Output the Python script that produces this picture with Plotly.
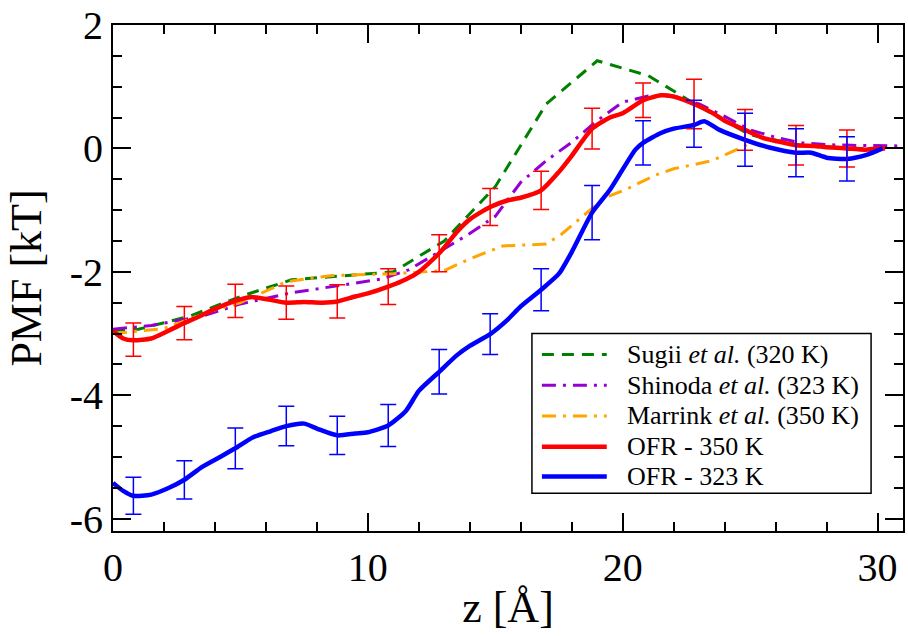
import plotly.graph_objects as go

# ---------------- data ----------------
sugii_x = [0, 1, 3, 5, 7, 9, 11, 13, 15, 17, 19, 21, 23, 25, 27, 29, 30.5]
sugii_y = [-2.95, -2.93, -2.72, -2.4, -2.13, -2.06, -2.0, -1.5, -0.62, 0.72, 1.42, 1.18, 0.68, 0.22, 0.05, 0.0, 0.0]

shinoda_x = [0, 1.5, 3.5, 5, 7, 9, 10.5, 11.6, 13, 14, 15, 16, 17, 18, 19, 20, 21, 22, 23, 24, 25, 26, 27, 28, 29, 31]
shinoda_y = [-2.93, -2.87, -2.72, -2.52, -2.34, -2.22, -2.12, -1.97, -1.63, -1.38, -1.1, -0.55, -0.2, 0.1, 0.45, 0.75,
             0.85, 0.85, 0.72, 0.52, 0.3, 0.18, 0.09, 0.06, 0.05, 0.04]

marrink_x = [0, 2, 3.8, 5, 6.8, 8.6, 11, 13, 14, 15.3, 17, 17.6, 19.3, 20.1, 21.3, 22, 23.5, 25]
marrink_y = [-3.0, -2.92, -2.64, -2.5, -2.16, -2.06, -2.03, -1.98, -1.79, -1.58, -1.55, -1.39, -0.8, -0.67, -0.43, -0.33,
             -0.2, 0.08]

ofr350_x = [0, 0.4, 0.8, 1.5, 2.2, 2.8, 3.4, 4.0, 4.8, 5.4, 6.0, 6.8, 7.5, 8.2, 8.8, 9.5, 10.0, 10.8, 11.5, 12.0, 12.8,
            13.5, 14.0, 14.8, 15.5, 16.0, 16.8, 17.5, 18.0, 18.8, 19.5, 20.0, 20.8, 21.5, 22.0, 22.8, 23.5, 24.0, 24.8,
            25.5, 26.0, 26.8, 27.5, 28.0, 28.8, 29.5, 30.0, 30.3]
ofr350_y = [-2.96, -3.08, -3.11, -3.08, -2.95, -2.83, -2.72, -2.6, -2.47, -2.41, -2.44, -2.5, -2.49, -2.5, -2.48, -2.4,
            -2.35, -2.24, -2.12, -2.0, -1.7, -1.35, -1.15, -0.95, -0.84, -0.8, -0.68, -0.38, -0.12, 0.32, 0.5, 0.57,
            0.78, 0.86, 0.84, 0.72, 0.58, 0.45, 0.3, 0.17, 0.12, 0.05, 0.04, 0.02, 0.0, -0.02, 0.0, 0.0]

ofr323_x = [0, 0.4, 0.8, 1.5, 2.2, 2.8, 3.5, 4.2, 4.8, 5.5, 6.2, 6.8, 7.5, 8.0, 8.8, 9.5, 10.0, 10.8, 11.5, 12.0, 12.8,
            13.5, 14.0, 14.8, 15.5, 16.0, 16.8, 17.5, 18.0, 18.8, 19.5, 20.0, 20.5, 20.8, 21.5, 22.0, 22.8, 23.2, 23.8,
            24.8, 25.8, 26.8, 27.4, 28.0, 28.8, 29.6, 30.2]
ofr323_y = [-5.42, -5.55, -5.63, -5.61, -5.5, -5.37, -5.16, -5.0, -4.86, -4.68, -4.58, -4.5, -4.46, -4.54, -4.65, -4.62,
            -4.6, -4.49, -4.25, -3.93, -3.62, -3.35, -3.2, -3.01, -2.77, -2.56, -2.29, -2.03, -1.68, -1.04, -0.67, -0.34,
            -0.02, 0.09, 0.25, 0.32, 0.38, 0.44, 0.3, 0.14, 0.01, -0.07, -0.07, -0.15, -0.17, -0.1, 0.0]

bar_x = [0.8, 2.8, 4.8, 6.8, 8.8, 10.8, 12.8, 14.8, 16.8, 18.8, 20.8, 22.8, 24.8, 26.8, 28.8]
ofr350_bar_y = [-3.1, -2.83, -2.47, -2.5, -2.48, -2.24, -1.7, -0.95, -0.68, 0.32, 0.78, 0.72, 0.3, 0.05, 0.0]
ofr350_err = [0.27, 0.27, 0.27, 0.27, 0.27, 0.29, 0.30, 0.30, 0.31, 0.33, 0.28, 0.40, 0.33, 0.32, 0.30]
ofr323_bar_y = [-5.63, -5.37, -4.86, -4.5, -4.65, -4.49, -3.62, -3.01, -2.29, -1.04, 0.09, 0.4, 0.14, -0.07, -0.17]
ofr323_err = [0.30, 0.31, 0.33, 0.32, 0.31, 0.34, 0.36, 0.33, 0.34, 0.44, 0.36, 0.38, 0.43, 0.39, 0.36]

x_tickvals = [0, 10, 20, 30]
x_ticktext = ["0", "10", "20", "30"]
y_tickvals = [-6, -4, -2, 0, 2]
y_ticktext = ["-6", "-4", "-2", "0", "2"]

names = ["Sugii <i>et al.</i> (320 K)", "Shinoda <i>et al.</i> (323 K)", "Marrink <i>et al.</i> (350 K)",
         "OFR - 350 K", "OFR - 323 K"]
colors = ["#008000", "#9400D3", "#FFA500", "#FF0000", "#0000FF"]
dashes = ["12px,8px", "14px,7px,3px,7px", "14px,7px,3px,7px", "solid", "solid"]
widths = [3, 3, 3, 4.5, 4.5]

FONT = "Liberation Serif"

fig = go.Figure()
series = [(sugii_x, sugii_y, "linear"), (shinoda_x, shinoda_y, "linear"), (marrink_x, marrink_y, "linear"),
          (ofr350_x, ofr350_y, "spline"), (ofr323_x, ofr323_y, "spline")]
for i, (sx, sy, shp) in enumerate(series):
    ln = dict(color=colors[i], width=widths[i], dash=dashes[i], shape=shp)
    if shp == "spline":
        ln["smoothing"] = 0.6
    fig.add_trace(go.Scatter(x=sx, y=sy, mode="lines", name=names[i], showlegend=False, line=ln))

for by, be, col in [(ofr350_bar_y, ofr350_err, "#FF0000"), (ofr323_bar_y, ofr323_err, "#0000FF")]:
    fig.add_trace(go.Scatter(x=bar_x, y=by, mode="markers", showlegend=False, hoverinfo="skip",
                             marker=dict(size=1, color=col, opacity=0),
                             error_y=dict(type="data", array=be, visible=True, color=col,
                                          thickness=1.5, width=8)))

axis_common = dict(showgrid=False, zeroline=False, showline=True, linecolor="black", linewidth=2,
                   mirror="ticks", ticks="inside", ticklen=18, tickwidth=2, tickcolor="black",
                   ticklabeloverflow="allow",
                   tickfont=dict(family=FONT, size=40, color="black"))

fig.update_xaxes(range=[0, 31], tickvals=x_tickvals, ticktext=x_ticktext,
                 minor=dict(dtick=2, tick0=0, ticks="inside", ticklen=9, tickwidth=2, tickcolor="black"),
                 title=dict(text="z [Å]", font=dict(family=FONT, size=44, color="black"), standoff=2),
                 **axis_common)
fig.update_yaxes(range=[-6.2, 2], tickvals=y_tickvals, ticktext=y_ticktext,
                 minor=dict(dtick=0.5, tick0=0, ticks="inside", ticklen=9, tickwidth=2, tickcolor="black"),
                 title=dict(text="PMF [kT]", font=dict(family=FONT, size=44, color="black"), standoff=14),
                 **axis_common)

# ---- manual legend (paper coords) ----
L, R, T, B = 113, 905, 21, 531
def px(xp):
    return (xp - L) / (R - L)
def py(yp):
    return (B - yp) / (B - T)

shapes = [dict(type="rect", xref="paper", yref="paper", x0=px(533), x1=px(873), y0=py(332), y1=py(493),
               line=dict(color="black", width=1.5), fillcolor="white", layer="above")]
annotations = []
row_y = [353, 384, 415, 446, 476]
for i in range(5):
    shapes.append(dict(type="line", xref="paper", yref="paper", x0=px(543), x1=px(608), y0=py(row_y[i]),
                       y1=py(row_y[i]), layer="above",
                       line=dict(color=colors[i], width=widths[i], dash=dashes[i])))
    annotations.append(dict(xref="paper", yref="paper", x=px(626), y=py(row_y[i]), xanchor="left",
                            yanchor="middle", showarrow=False, text=names[i],
                            font=dict(family=FONT, size=26, color="black")))

fig.update_layout(
    width=908, height=636,
    margin=dict(l=113, r=3, t=21, b=105),
    paper_bgcolor="white", plot_bgcolor="white",
    font=dict(family=FONT, color="black"),
    showlegend=False,
    shapes=shapes, annotations=annotations,
)

fig.write_html("out.html")
